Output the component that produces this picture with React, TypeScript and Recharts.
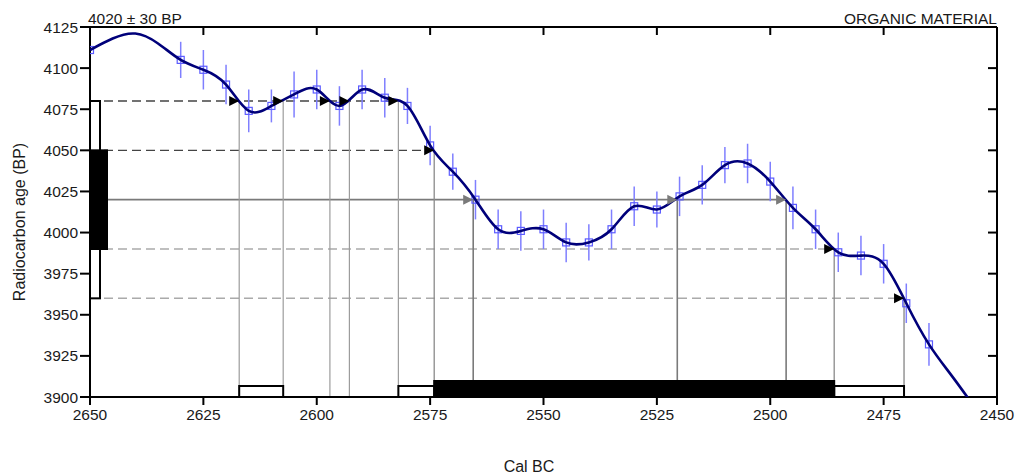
import React from "react";
import {
  ComposedChart,
  Line,
  Scatter,
  ErrorBar,
  XAxis,
  YAxis,
  ReferenceLine,
  ReferenceArea,
  ReferenceDot,
} from "recharts";

// measured radiocarbon date
const AGE = 4020;
const SIGMA = 30;

const X_TICKS = [2650, 2625, 2600, 2575, 2550, 2525, 2500, 2475, 2450];
const Y_TICKS = [3900, 3925, 3950, 3975, 4000, 4025, 4050, 4075, 4100, 4125];

// calibration curve samples (cal BC, BP, 1 sigma)
const SAMPLE_YEARS = [
  2650, 2630, 2625, 2620, 2615, 2610, 2605, 2600, 2595, 2590, 2585, 2580, 2575,
  2570, 2565, 2560, 2555, 2550, 2545, 2540, 2535, 2530, 2525, 2520, 2515, 2510,
  2505, 2500, 2495, 2490, 2485, 2480, 2475, 2470, 2465,
];
const SAMPLE_AGES = [
  4111, 4105, 4099, 4090, 4074, 4077, 4084, 4087, 4077, 4087, 4082, 4077, 4053,
  4037, 4020, 4002, 4001, 4002, 3994, 3994, 4002, 4016, 4014, 4022, 4029, 4041,
  4042, 4031, 4015, 4002, 3988, 3986, 3981, 3957, 3932,
];
const SAMPLE_ERRORS = [
  0, 11, 12, 12, 13, 10, 14, 12, 12, 12, 12, 11, 12, 11, 12, 12, 12, 12, 12, 11,
  12, 12, 11, 12, 12, 11, 12, 12, 13, 12, 12, 12, 12, 12, 13,
];

// curve nodes without plotted samples
const CURVE_EXTRA_YEARS = [2645, 2640, 2635, 2460, 2455];
const CURVE_EXTRA_AGES = [4118, 4121, 4115, 3913, 3894];

// where the curve meets each level
const CROSS_PLUS2 = [2617.1, 2607.4, 2597.1, 2592.8, 2582.0];
const CROSS_PLUS1 = [2574.1];
const CROSS_MEAN = [2565.5, 2520.5, 2496.5];
const CROSS_MINUS1 = [2485.9];
const CROSS_MINUS2 = [2470.5];

// calibrated ranges
const RANGES_2SIGMA = [
  [2617.1, 2607.4],
  [2582.0, 2574.1],
  [2485.9, 2470.5],
];
const RANGES_1SIGMA = [[2574.1, 2485.9]];

const FONT = "'Liberation Sans', Arial, sans-serif";
const TICK_STYLE = { fontSize: 15.5, fill: "#1a1a1a", fontFamily: FONT };

const samples = SAMPLE_YEARS.map((year, i) => ({
  year,
  age: SAMPLE_AGES[i],
  err: SAMPLE_ERRORS[i],
}));

const curve = [
  ...samples.map((s) => ({ year: s.year, age: s.age })),
  ...CURVE_EXTRA_YEARS.map((year, i) => ({ year, age: CURVE_EXTRA_AGES[i] })),
].sort((a, b) => b.year - a.year);

const levels = [
  { age: AGE + 2 * SIGMA, cross: CROSS_PLUS2, stroke: "#444", dash: "9 5", width: 1.3, arrow: "#000", vStroke: "#9c9c9c", vWidth: 1.2 },
  { age: AGE + SIGMA, cross: CROSS_PLUS1, stroke: "#444", dash: "9 5", width: 1.3, arrow: "#000", vStroke: "#8a8a8a", vWidth: 1.3 },
  { age: AGE, cross: CROSS_MEAN, stroke: "#7a7a7a", dash: undefined, width: 1.8, arrow: "#7a7a7a", vStroke: "#7a7a7a", vWidth: 1.6 },
  { age: AGE - SIGMA, cross: CROSS_MINUS1, stroke: "#aaa", dash: "9 5", width: 1.5, arrow: "#000", vStroke: "#8a8a8a", vWidth: 1.3 },
  { age: AGE - 2 * SIGMA, cross: CROSS_MINUS2, stroke: "#aaa", dash: "9 5", width: 1.5, arrow: "#000", vStroke: "#7a7a7a", vWidth: 1.2 },
];

const NoLabel = () => <g />;

const SampleSquare = (props: any) => {
  const { cx, cy } = props;
  if (cx == null || cy == null) return null;
  return (
    <rect x={cx - 3.5} y={cy - 3.5} width={7} height={7} fill="none" stroke="#5b5bff" strokeWidth={1.2} />
  );
};

const arrowShape = (color: string) => (props: any) => {
  const { cx, cy } = props;
  if (cx == null || cy == null) return <g />;
  return <polygon points={`${cx},${cy} ${cx - 10},${cy - 5} ${cx - 10},${cy + 5}`} fill={color} />;
};

const leftBar = (w: number, filled: boolean) => (props: any) => {
  const { x, y, height } = props;
  return (
    <rect x={x} y={y} width={w} height={height} fill={filled ? "#000" : "#fff"} stroke="#000" strokeWidth={2} />
  );
};

const bottomBar = (h: number, filled: boolean) => (props: any) => {
  const { x, y, width, height } = props;
  const bottom = y + height;
  return (
    <rect x={x} y={bottom - h} width={width} height={h} fill={filled ? "#000" : "#fff"} stroke="#000" strokeWidth={2} />
  );
};

export default function App() {
  return (
    <div style={{ position: "relative", width: 1017, height: 476, background: "#fff" }}>
      <style>{`body{margin:0}`}</style>
      <ComposedChart width={1017} height={476} margin={{ top: 27, right: 20, bottom: 0, left: 0 }}>
        <XAxis
          type="number"
          dataKey="year"
          domain={[2450, 2650]}
          reversed
          allowDataOverflow
          ticks={X_TICKS}
          height={79}
          tickSize={8}
          tickMargin={4}
          tick={TICK_STYLE}
          axisLine={{ stroke: "#000", strokeWidth: 2 }}
          tickLine={{ stroke: "#000", strokeWidth: 2 }}
        />
        <XAxis
          xAxisId="top"
          orientation="top"
          type="number"
          dataKey="year"
          domain={[2450, 2650]}
          reversed
          allowDataOverflow
          ticks={X_TICKS}
          mirror
          tick={NoLabel}
          tickSize={8}
          axisLine={{ stroke: "#000", strokeWidth: 2 }}
          tickLine={{ stroke: "#000", strokeWidth: 2 }}
        />
        <YAxis
          type="number"
          dataKey="age"
          domain={[3900, 4125]}
          allowDataOverflow
          ticks={Y_TICKS}
          width={90}
          tickSize={10}
          tickMargin={2}
          tick={TICK_STYLE}
          axisLine={{ stroke: "#000", strokeWidth: 2 }}
          tickLine={{ stroke: "#000", strokeWidth: 2 }}
        />
        <YAxis
          yAxisId="right"
          orientation="right"
          type="number"
          dataKey="age"
          domain={[3900, 4125]}
          allowDataOverflow
          ticks={Y_TICKS}
          mirror
          tick={NoLabel}
          tickSize={9}
          axisLine={{ stroke: "#000", strokeWidth: 2 }}
          tickLine={{ stroke: "#000", strokeWidth: 2 }}
        />

        {levels.map((lv) => (
          <ReferenceLine
            key={`h-${lv.age}`}
            segment={[
              { x: 2650, y: lv.age },
              { x: Math.min(...lv.cross), y: lv.age },
            ]}
            stroke={lv.stroke}
            strokeWidth={lv.width}
            strokeDasharray={lv.dash}
          />
        ))}
        {levels.map((lv) =>
          lv.cross.map((c) => (
            <ReferenceLine
              key={`v-${lv.age}-${c}`}
              segment={[
                { x: c, y: lv.age },
                { x: c, y: 3900 },
              ]}
              stroke={lv.vStroke}
              strokeWidth={lv.vWidth}
            />
          ))
        )}

        <ReferenceArea
          x1={2650}
          x2={2649}
          y1={AGE - 2 * SIGMA}
          y2={AGE + 2 * SIGMA}
          shape={leftBar(10, false)}
          zIndex={450}
        />
        <ReferenceArea
          x1={2650}
          x2={2649}
          y1={AGE - SIGMA}
          y2={AGE + SIGMA}
          shape={leftBar(17, true)}
          zIndex={451}
        />
        {RANGES_2SIGMA.map(([a, b]) => (
          <ReferenceArea key={`r2-${a}`} x1={a} x2={b} y1={3900} y2={3901} shape={bottomBar(11, false)} zIndex={450} />
        ))}
        {RANGES_1SIGMA.map(([a, b]) => (
          <ReferenceArea key={`r1-${a}`} x1={a} x2={b} y1={3900} y2={3901} shape={bottomBar(16, true)} zIndex={451} />
        ))}

        <Scatter data={samples} shape={SampleSquare} isAnimationActive={false}>
          <ErrorBar dataKey="err" direction="y" width={0} stroke="#7f7fff" strokeWidth={1.5} />
        </Scatter>
        <Line
          data={curve}
          dataKey="age"
          type="natural"
          stroke="#00007a"
          strokeWidth={2.6}
          dot={false}
          activeDot={false}
          isAnimationActive={false}
          zIndex={650}
        />

        {levels.map((lv) =>
          lv.cross.map((c) => (
            <ReferenceDot key={`a-${lv.age}-${c}`} x={c} y={lv.age} r={5} shape={arrowShape(lv.arrow)} zIndex={700} />
          ))
        )}
      </ComposedChart>

      <svg
        width={1017}
        height={476}
        style={{ position: "absolute", left: 0, top: 0, pointerEvents: "none" }}
        fontFamily={FONT}
        fill="#1a1a1a"
      >
        <text x={88} y={23.5} fontSize={15.5}>
          4020 ± 30 BP
        </text>
        <text x={997} y={24} fontSize={15.5} textAnchor="end">
          ORGANIC MATERIAL
        </text>
        <text x={25} y={222} fontSize={16} textAnchor="middle" transform="rotate(-90 25 222)">
          Radiocarbon age (BP)
        </text>
        <text x={529} y={471.5} fontSize={16} textAnchor="middle">
          Cal BC
        </text>
      </svg>
    </div>
  );
}
